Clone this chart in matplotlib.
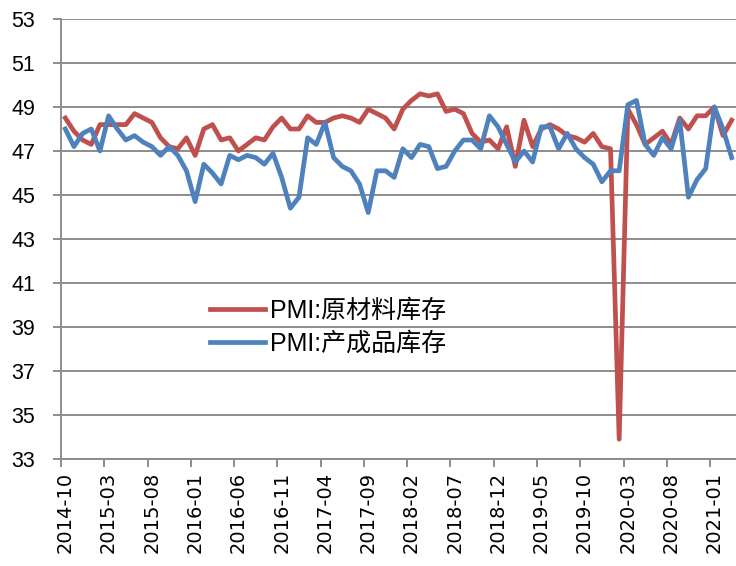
import numpy as np
import pandas as pd
import matplotlib
matplotlib.use("Agg")
import matplotlib.pyplot as plt

plt.rcParams['font.family'] = ['Liberation Sans', 'Noto Sans CJK SC', 'DejaVu Sans']

# monthly PMI sub-indices, 2014-10 .. 2021-03
months = [str(p) for p in pd.period_range('2014-10', '2021-03', freq='M')]

raw_material = [
    48.5, 47.9, 47.5, 47.3, 48.2, 48.2, 48.2, 48.2, 48.7, 48.5,
    48.3, 47.6, 47.2, 47.1, 47.6, 46.8, 48.0, 48.2, 47.5, 47.6,
    47.0, 47.3, 47.6, 47.5, 48.1, 48.5, 48.0, 48.0, 48.6, 48.3,
    48.3, 48.5, 48.6, 48.5, 48.3, 48.9, 48.7, 48.5, 48.0, 48.9,
    49.3, 49.6, 49.5, 49.6, 48.8, 48.9, 48.7, 47.8, 47.4, 47.5,
    47.1, 48.1, 46.3, 48.4, 47.2, 48.0, 48.2, 48.0, 47.7, 47.6,
    47.4, 47.8, 47.2, 47.1, 33.9, 48.9, 48.2, 47.3, 47.6, 47.9,
    47.3, 48.5, 48.0, 48.6, 48.6, 49.0, 47.7, 48.4,
]

finished_goods = [
    48.0, 47.2, 47.8, 48.0, 47.0, 48.6, 48.0, 47.5, 47.7, 47.4,
    47.2, 46.8, 47.2, 46.8, 46.1, 44.7, 46.4, 46.0, 45.5, 46.8,
    46.6, 46.8, 46.7, 46.4, 46.9, 45.8, 44.4, 44.9, 47.6, 47.3,
    48.3, 46.7, 46.3, 46.1, 45.5, 44.2, 46.1, 46.1, 45.8, 47.1,
    46.7, 47.3, 47.2, 46.2, 46.3, 47.0, 47.5, 47.5, 47.1, 48.6,
    48.1, 47.3, 46.5, 47.0, 46.5, 48.1, 48.1, 47.1, 47.8, 47.1,
    46.7, 46.4, 45.6, 46.1, 46.1, 49.1, 49.3, 47.3, 46.8, 47.6,
    47.1, 48.4, 44.9, 45.7, 46.2, 49.0, 48.0, 46.7,
]

series_names = ['PMI:原材料库存', 'PMI:产成品库存']
colors = ['#C0504D', '#4F81BD']
gray = '#8C8C8C'

x = np.arange(len(months))

fig = plt.figure(figsize=(7.36, 5.66), dpi=100)
ax = fig.add_axes([61 / 736, 107 / 566, 675 / 736, 440 / 566])

ax.plot(x, raw_material, color=colors[0], lw=3.4, label=series_names[0], solid_joinstyle='round')
ax.plot(x, finished_goods, color=colors[1], lw=3.4, label=series_names[1], solid_joinstyle='round')

ax.set_xlim(-0.5, len(months) - 0.5)
ax.set_ylim(33, 53)
ax.set_yticks(np.arange(33, 54, 2))
ax.grid(axis='y', color=gray, lw=1.4)
ax.set_axisbelow(True)

for s in ['top', 'right']:
    ax.spines[s].set_visible(False)
for s in ['left', 'bottom']:
    ax.spines[s].set_color(gray)
    ax.spines[s].set_linewidth(1.4)

# labels at category centres, tick marks on the category boundaries
ax.set_xticks(x[::5], labels=months[::5], rotation=90)
ax.set_xticks(x[::5] - 0.5, minor=True)
ax.tick_params(axis='x', which='major', length=0, pad=9.5, labelsize=14,
               labelfontfamily='DejaVu Sans')
ax.tick_params(axis='x', which='minor', length=6, width=1.4, color=gray)
ax.tick_params(axis='y', length=6, width=1.4, color=gray, pad=12.5, labelsize=15.5)

ax.legend(loc='upper left', bbox_to_anchor=(210 / 736, 1 - 299 / 566),
          bbox_transform=fig.transFigure, frameon=False, fontsize=18,
          handlelength=2.2, handletextpad=0.2, borderpad=0, borderaxespad=0,
          labelspacing=0.36)

fig.savefig('out.png', dpi=100)
